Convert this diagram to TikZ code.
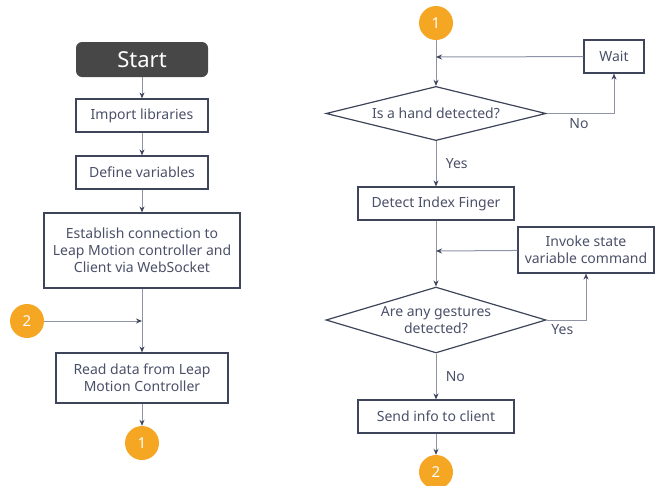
\documentclass[tikz,border=0pt]{standalone}
\usepackage{fontspec}
\setmainfont{Noto Sans}
\usetikzlibrary{positioning,shapes.geometric,arrows.meta}

\definecolor{boxline}{HTML}{3E4459}
\definecolor{boxtext}{HTML}{4A5068}
\definecolor{flowline}{HTML}{8E94A6}
\definecolor{connorange}{HTML}{F5A623}
\definecolor{startgray}{HTML}{474747}

\begin{document}
\begin{tikzpicture}[
    x=1pt, y=-1pt,
    box/.style={rectangle, draw=boxline, line width=1.2pt, text=boxtext, font=\fontsize{14}{17}\selectfont, align=center, inner sep=0pt},
    decision/.style={diamond, aspect=2.95, draw=boxline, line width=1.2pt, text=boxtext, font=\fontsize{14}{17}\selectfont, align=center, inner sep=0pt, minimum width=220pt},
    connector/.style={circle, fill=connorange, text=white, minimum size=34pt, inner sep=0pt, font=\fontsize{15}{17}\selectfont},
    arrow/.style={draw=flowline, line width=1pt, -{Stealth[length=6pt, width=5pt, color=boxline]}},
    branch/.style={text=boxtext, font=\fontsize{14}{17}\selectfont}
]
\useasboundingbox (0,0) rectangle (663,485);

% Left column
\node[rectangle, rounded corners=6pt, fill=startgray, text=white, minimum width=132pt, minimum height=35pt, font=\fontsize{22}{24}\selectfont] (start) at (142,59.5) {Start};
\node[box, minimum width=132pt, minimum height=33pt] (import) at (142,115.5) {Import libraries};
\node[box, minimum width=132pt, minimum height=33pt] (define) at (142,172.5) {Define variables};
\node[box, minimum width=196pt, minimum height=75pt] (connect) at (142,250.5) {Establish connection to\\Leap Motion controller and\\Client via WebSocket};
\node[connector] (lefttwo) at (27,321) {2};
\coordinate (merge) at (142,321);
\node[box, minimum width=172pt, minimum height=50pt] (read) at (142,378) {Read data from Leap\\Motion Controller};
\node[connector] (leftone) at (142,443) {1};

% Right column
\node[connector] (rightone) at (436,23) {1};
\node[box, minimum width=60pt, minimum height=33pt] (wait) at (614,56.5) {Wait};
\coordinate (waitin) at (436,57);
\node[decision] (hand) at (436,113.5) {Is a hand detected?};
\node[box, minimum width=156pt, minimum height=33pt] (finger) at (436,203.5) {Detect Index Finger};
\node[box, minimum width=136pt, minimum height=46pt] (invoke) at (586,250) {Invoke state\\variable command};
\coordinate (invokein) at (436,251);
\node[decision, aspect=2.85] (gesture) at (436,320) {Are any gestures\\detected?};
\node[box, minimum width=156pt, minimum height=33pt] (send) at (436,416.5) {Send info to client};
\node[connector] (righttwo) at (436,472) {2};

% Left flow
\draw[arrow] (start) -- (import);
\draw[arrow] (import) -- (define);
\draw[arrow] (define) -- (connect);
\draw[arrow] (connect) -- (read);
\draw[arrow] (lefttwo) -- (merge);
\draw[arrow] (read) -- (leftone);

% Right flow
\draw[arrow] (rightone) -- (hand);
\draw[arrow] (wait) -- (waitin);
\draw[arrow] (hand.east) -| (wait.south) node[branch, pos=0.24, below=1pt] {No};
\draw[arrow] (hand) -- (finger) node[branch, pos=0.5, right=6pt] {Yes};
\draw[arrow] (finger) -- (gesture);
\draw[arrow] (invoke) -- (invokein);
\draw[arrow] (gesture.east) -| (invoke.south) node[branch, pos=0.2, below=1pt] {Yes};
\draw[arrow] (gesture) -- (send) node[branch, pos=0.5, right=6pt] {No};
\draw[arrow] (send) -- (righttwo);

\end{tikzpicture}
\end{document}
